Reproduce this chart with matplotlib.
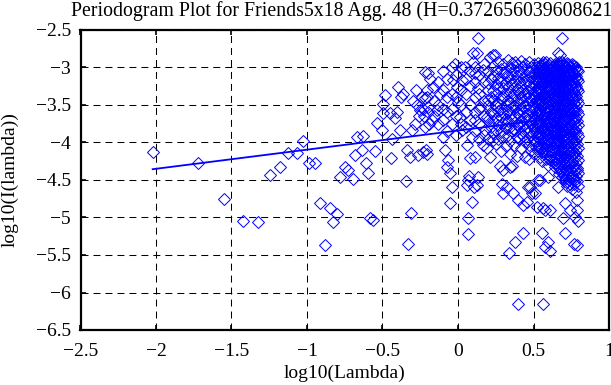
import matplotlib
matplotlib.use("Agg")
import matplotlib.pyplot as plt

plt.rcParams['font.family'] = ['Liberation Serif', 'DejaVu Serif']

title = "Periodogram Plot for Friends5x18 Agg. 48 (H=0.372656039608621)"

# sparse low-frequency points (log10 lambda, log10 I)
low_x = [-2.022, -1.724, -1.548, -1.422, -1.325, -1.245, -1.179, -1.124, -1.068,
         -1.024, -0.985, -0.947, -0.914, -0.879, -0.848, -0.826, -0.800, -0.783,
         -0.748, -0.726, -0.697, -0.682, -0.671, -0.631, -0.638, -0.609, -0.594,
         -0.550, -0.581, -0.561, -0.539, -0.505, -0.495, -0.483, -0.499, -0.450,
         -0.439, -0.444, -0.417, -0.406, -0.395, -0.380, -0.366, -0.384, -0.344,
         -0.329, -0.311, -0.340, -0.318, -0.307, -0.285, -0.274, -0.252, -0.263,
         -0.234, -0.218, -0.225, -0.207, -0.197, -0.218, -0.212, -0.300, -0.280,
         -0.260, -0.240, -0.230, -0.200, -0.190]
low_y = [-4.125, -4.267, -4.760, -5.053, -5.058, -4.436, -4.325, -4.138, -4.138,
         -3.978, -4.280, -4.270, -4.813, -5.365, -4.872, -5.058, -4.960, -4.459,
         -4.325, -4.370, -4.480, -4.170, -3.925, -3.916, -4.100, -4.280, -4.413,
         -4.110, -5.013, -5.036, -3.738, -3.830, -3.613, -3.370, -3.490, -3.605,
         -3.947, -4.213, -3.667, -3.590, -3.259, -3.390, -3.347, -3.836, -4.512,
         -5.347, -4.939, -4.103, -4.192, -3.836, -3.747, -3.503, -3.570, -4.169,
         -4.125, -3.792, -3.649, -3.303, -3.080, -3.413, -4.103, -3.450, -3.300,
         -3.650, -3.400, -3.550, -3.600, -3.750]

# middle band
mid_x = [-0.218, -0.185, -0.164, -0.207, -0.197, -0.174, -0.207, -0.141, -0.119,
         -0.097, -0.086, -0.064, -0.075, -0.053, -0.042, -0.053, -0.020, -0.031,
         -0.009, 0.002, 0.013, 0.024, 0.024, 0.046, 0.058, 0.080, 0.091, 0.068,
         0.058, 0.091, 0.064, 0.064, 0.101, 0.124, 0.113, 0.135, 0.146, 0.113,
         0.135, 0.124, 0.168, 0.179, 0.190, 0.201, 0.201, 0.212, 0.168, 0.190,
         0.212, 0.234, 0.110, 0.070, 0.105]
mid_y = [-3.060, -3.147, -3.259, -3.390, -3.525, -3.703, -4.147, -3.570, -3.347,
         -3.925, -4.103, -4.236, -4.325, -4.413, -4.592, -4.813, -2.947, -3.169,
         -3.259, -3.459, -3.659, -3.836, -3.169, -2.992, -4.036, -4.213, -3.925,
         -4.503, -4.569, -4.792, -5.013, -5.223, -2.925, -2.813, -3.080, -3.280,
         -3.525, -3.703, -4.459, -4.569, -4.036, -3.836, -3.659, -3.436, -3.213,
         -2.859, -3.036, -4.080, -4.192, -3.969, -4.190, -4.440, -4.590]

# filler columns of the middle band
band_cols = [-0.16, -0.13, -0.10, -0.07, -0.04, -0.01, 0.02, 0.05, 0.08, 0.11,
             0.14, 0.17, 0.20, 0.22]
band_vals = [[-3.45, -3.65],
             [-3.20, -3.50, -3.75],
             [-3.05, -3.30, -3.55, -3.70],
             [-3.15, -3.40, -3.60, -3.85],
             [-3.00, -3.35, -3.55, -3.75],
             [-3.10, -3.40, -3.65, -3.90],
             [-3.00, -3.30, -3.50, -3.75],
             [-3.15, -3.35, -3.60, -3.80],
             [-3.05, -3.25, -3.50, -3.70],
             [-3.00, -3.20, -3.40, -3.60, -3.85],
             [-3.10, -3.35, -3.55, -3.75, -3.95],
             [-2.95, -3.20, -3.45, -3.65, -3.90],
             [-3.05, -3.30, -3.50, -3.70, -3.95],
             [-3.15, -3.40, -3.60, -3.80]]

# dense high-frequency cloud, column by column
cloud_cols = [0.235, 0.252, 0.268, 0.284, 0.300, 0.315, 0.330, 0.345, 0.360, 0.374,
              0.388, 0.402, 0.416, 0.430, 0.444, 0.458, 0.472, 0.486, 0.500, 0.514,
              0.528, 0.542, 0.556, 0.570, 0.584, 0.598, 0.612, 0.626, 0.640, 0.654,
              0.668, 0.682, 0.696, 0.710, 0.724, 0.738, 0.752, 0.766, 0.780, 0.795]
cloud_vals = [
    [-2.98, -3.12, -3.31, -3.44, -3.62, -3.71, -3.88],
    [-3.05, -3.22, -3.36, -3.52, -3.68, -3.83, -4.02],
    [-2.93, -3.14, -3.27, -3.47, -3.58, -3.77, -3.95],
    [-3.02, -3.19, -3.41, -3.55, -3.66, -3.86, -4.12],
    [-2.96, -3.08, -3.28, -3.39, -3.61, -3.74, -3.92],
    [-3.06, -3.21, -3.35, -3.50, -3.69, -3.81, -4.05],
    [-2.90, -3.12, -3.26, -3.43, -3.57, -3.72, -3.90],
    [-3.00, -3.17, -3.33, -3.48, -3.64, -3.79, -3.98, -4.15],
    [-2.94, -3.09, -3.24, -3.40, -3.53, -3.70, -3.85],
    [-3.03, -3.18, -3.37, -3.51, -3.66, -3.83, -4.03],
    [-2.97, -3.11, -3.29, -3.44, -3.59, -3.75, -3.93, -4.18],
    [-3.05, -3.20, -3.34, -3.49, -3.63, -3.80, -3.96],
    [-2.92, -3.08, -3.25, -3.41, -3.56, -3.71, -3.88, -4.08],
    [-3.00, -3.15, -3.30, -3.46, -3.60, -3.77, -3.92],
    [-2.95, -3.10, -3.22, -3.38, -3.53, -3.68, -3.84, -4.00, -4.20],
    [-3.02, -3.17, -3.32, -3.47, -3.62, -3.79, -3.95],
    [-2.93, -3.06, -3.24, -3.40, -3.55, -3.70, -3.86, -4.04, -4.22],
    [-3.00, -3.13, -3.28, -3.44, -3.58, -3.74, -3.90, -4.10],
    [-2.96, -3.09, -3.21, -3.36, -3.51, -3.66, -3.81, -3.97, -4.16],
    [-3.03, -3.16, -3.30, -3.45, -3.60, -3.73, -3.88, -4.06],
    [-2.94, -3.07, -3.20, -3.34, -3.49, -3.64, -3.79, -3.94, -4.12],
    [-3.00, -3.12, -3.27, -3.42, -3.56, -3.70, -3.86, -4.02, -4.20],
    [-2.95, -3.05, -3.19, -3.33, -3.47, -3.62, -3.77, -3.91, -4.08, -4.25],
    [-3.01, -3.14, -3.26, -3.40, -3.55, -3.69, -3.84, -3.99, -4.15],
    [-2.93, -3.06, -3.18, -3.31, -3.45, -3.60, -3.74, -3.89, -4.04, -4.22],
    [-2.99, -3.10, -3.23, -3.37, -3.52, -3.66, -3.81, -3.96, -4.11, -4.30],
    [-2.94, -3.04, -3.16, -3.29, -3.43, -3.57, -3.71, -3.86, -4.01, -4.18],
    [-3.00, -3.11, -3.22, -3.35, -3.49, -3.63, -3.78, -3.93, -4.08, -4.26],
    [-2.95, -3.05, -3.15, -3.27, -3.40, -3.54, -3.68, -3.83, -3.98, -4.14, -4.33],
    [-2.98, -3.09, -3.20, -3.33, -3.46, -3.60, -3.74, -3.89, -4.04, -4.21],
    [-2.93, -3.03, -3.14, -3.26, -3.39, -3.52, -3.66, -3.80, -3.95, -4.10, -4.28, -4.42],
    [-2.97, -3.07, -3.18, -3.31, -3.44, -3.58, -3.72, -3.86, -4.01, -4.17, -4.35],
    [-2.95, -3.04, -3.13, -3.24, -3.37, -3.50, -3.63, -3.77, -3.92, -4.07, -4.23, -4.40],
    [-2.99, -3.09, -3.20, -3.32, -3.45, -3.58, -3.71, -3.85, -3.99, -4.14, -4.30, -4.48],
    [-2.94, -3.03, -3.14, -3.26, -3.39, -3.52, -3.66, -3.80, -3.94, -4.09, -4.24, -4.41, -4.58],
    [-2.97, -3.07, -3.19, -3.31, -3.44, -3.57, -3.71, -3.85, -3.99, -4.14, -4.31, -4.50],
    [-2.95, -3.05, -3.16, -3.28, -3.41, -3.54, -3.67, -3.81, -3.96, -4.11, -4.26, -4.43, -4.62],
    [-2.98, -3.09, -3.21, -3.34, -3.47, -3.60, -3.74, -3.88, -4.03, -4.19, -4.36, -4.55],
    [-3.00, -3.12, -3.25, -3.38, -3.52, -3.66, -3.80, -3.95, -4.10, -4.27, -4.45, -4.66],
    [-3.05, -3.18, -3.32, -3.47, -3.62, -3.77, -3.92, -4.08, -4.24, -4.40, -4.58],
]

# second interleaved set of columns where the cloud is densest
dense_cols = [0.507, 0.521, 0.535, 0.549, 0.563, 0.577, 0.591, 0.605, 0.619, 0.633,
              0.647, 0.661, 0.675, 0.689, 0.703, 0.717, 0.731, 0.745, 0.759, 0.773,
              0.788]
dense_vals = [
    [-3.08, -3.25, -3.39, -3.55, -3.70, -3.84, -4.00],
    [-2.99, -3.13, -3.27, -3.43, -3.58, -3.76, -3.91],
    [-3.04, -3.18, -3.32, -3.46, -3.61, -3.75, -3.90, -4.07],
    [-2.97, -3.09, -3.23, -3.38, -3.52, -3.67, -3.82, -3.97],
    [-3.02, -3.12, -3.24, -3.37, -3.51, -3.65, -3.80, -3.95, -4.12],
    [-2.96, -3.08, -3.21, -3.35, -3.48, -3.63, -3.78, -3.93, -4.08],
    [-3.03, -3.13, -3.26, -3.39, -3.54, -3.68, -3.83, -3.98, -4.15],
    [-2.97, -3.07, -3.19, -3.32, -3.46, -3.60, -3.75, -3.90, -4.06, -4.22],
    [-3.02, -3.13, -3.25, -3.38, -3.52, -3.66, -3.81, -3.96, -4.12],
    [-2.97, -3.08, -3.18, -3.31, -3.44, -3.58, -3.72, -3.87, -4.02, -4.19],
    [-3.01, -3.11, -3.23, -3.36, -3.50, -3.64, -3.79, -3.94, -4.10, -4.27],
    [-2.96, -3.06, -3.17, -3.29, -3.42, -3.56, -3.70, -3.84, -3.99, -4.15, -4.33],
    [-3.00, -3.10, -3.22, -3.35, -3.48, -3.62, -3.76, -3.90, -4.05, -4.20, -4.38],
    [-2.93, -3.02, -3.15, -3.27, -3.40, -3.54, -3.68, -3.82, -3.96, -4.12, -4.29, -4.46],
    [-2.97, -3.06, -3.17, -3.29, -3.42, -3.55, -3.69, -3.83, -3.97, -4.11, -4.27, -4.44],
    [-3.00, -3.11, -3.23, -3.36, -3.49, -3.62, -3.76, -3.90, -4.04, -4.19, -4.36, -4.53],
    [-2.96, -3.05, -3.17, -3.29, -3.42, -3.55, -3.68, -3.82, -3.96, -4.11, -4.27, -4.45],
    [-3.00, -3.11, -3.23, -3.36, -3.49, -3.62, -3.76, -3.90, -4.05, -4.20, -4.37, -4.56],
    [-2.97, -3.07, -3.19, -3.31, -3.44, -3.57, -3.71, -3.85, -4.00, -4.15, -4.31, -4.48],
    [-3.02, -3.14, -3.27, -3.41, -3.55, -3.69, -3.83, -3.98, -4.14, -4.31, -4.50],
    [-3.04, -3.16, -3.29, -3.43, -3.58, -3.72, -3.87, -4.02, -4.18, -4.34, -4.52],
]

# stray points above and below the cloud
stray_x = [0.134, 0.687, 0.245, 0.377, 0.565, 0.676, 0.101, 0.234, 0.664,
           0.278, 0.344, 0.300, 0.322, 0.289, 0.366, 0.400, 0.432, 0.455, 0.488,
           0.521, 0.565, 0.466, 0.532, 0.598, 0.543, 0.576, 0.510, 0.477,
           0.753, 0.786, 0.664, 0.642, 0.709, 0.742, 0.709, 0.698, 0.609,
           0.790, 0.790, 0.775, 0.792, 0.765, 0.785, 0.710, 0.598, 0.609,
           0.430, 0.380, 0.340, 0.555, 0.576, 0.400, 0.565, 0.356, 0.300]
stray_y = [-2.613, -2.613, -2.836, -2.925, -2.925, -2.836, -2.813, -2.840, -2.810,
           -4.320, -4.325, -4.680, -4.592, -4.550, -4.680, -4.770, -4.840, -4.790, -4.680,
           -4.860, -4.880, -4.590, -4.500, -4.460, -4.503, -4.903, -4.680, -4.592,
           -4.459, -4.370, -4.592, -4.280, -4.192, -4.903, -4.813, -5.013, -4.903,
           -4.770, -4.900, -5.000, -5.050, -5.347, -5.360, -5.213, -5.330, -5.450,
           -5.213, -5.330, -5.470, -5.213, -5.392, -6.147, -6.147, -4.320, -4.370]

# least-squares fit line end points
fit_x = [-2.022, 0.798]
fit_y = [-4.356, -3.637]

pts_x = low_x + mid_x + stray_x
pts_y = low_y + mid_y + stray_y
for cx, vals in zip(band_cols + cloud_cols + dense_cols,
                    band_vals + cloud_vals + dense_vals):
    pts_x += [cx] * len(vals)
    pts_y += vals

W, H = 611, 385
fig = plt.figure(figsize=(W / 100, H / 100), dpi=100)
ax = fig.add_axes([80.5 / W, 1 - 330 / H, 528.5 / W, 300 / H])

ax.plot(pts_x, pts_y, linestyle='none', marker='D', markersize=6.6,
        markerfacecolor='none', markeredgecolor='#0000ff', markeredgewidth=0.7,
        zorder=3)
ax.plot(fit_x, fit_y, color='#0000ff', linewidth=1.3, zorder=4)

ax.set_xlim(-2.5, 1)
ax.set_ylim(-6.5, -2.5)
ax.set_xticks([-2.5, -2, -1.5, -1, -0.5, 0, 0.5, 1])
ax.set_yticks([-6.5, -6, -5.5, -5, -4.5, -4, -3.5, -3, -2.5])
ax.set_xticklabels(['\u22122.5', '\u22122', '\u22121.5', '\u22121', '\u22120.5', '0', '0.5', '1'])
ax.set_yticklabels(['\u22126.5', '\u22126', '\u22125.5', '\u22125', '\u22124.5', '\u22124',
                    '\u22123.5', '\u22123', '\u22122.5'])

ax.grid(True, color='black', linewidth=0.75, linestyle=(0, (6.7, 4.8)), zorder=1)
ax.set_axisbelow(True)
ax.tick_params(axis='both', direction='in', length=3.6, width=1.2, labelsize=14,
               top=True, right=True, colors='black')
ax.tick_params(axis='x', pad=9)
ax.tick_params(axis='y', pad=7)
for s in ax.spines.values():
    s.set_linewidth(1.6)

ax.set_title(title, fontsize=14.3, pad=10)
ax.set_xlabel('log10(Lambda)', fontsize=14, labelpad=4)
ax.set_ylabel('log10(I(lambda))', fontsize=14, labelpad=12)

fig.savefig('out.png', dpi=100)
